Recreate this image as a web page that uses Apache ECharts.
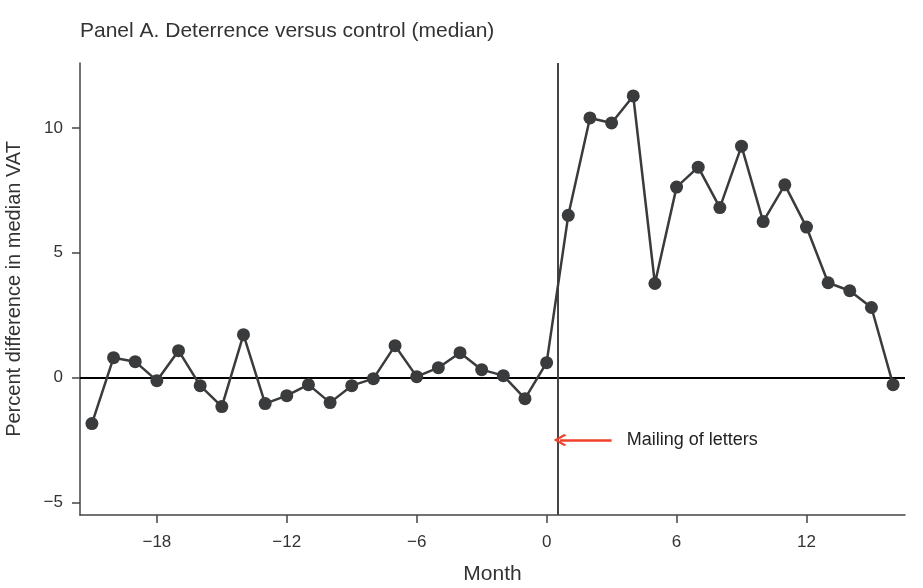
<!DOCTYPE html>
<html><head><meta charset="utf-8">
<script src="https://cdn.jsdelivr.net/npm/echarts@6/dist/echarts.min.js"></script>
<style>html,body{margin:0;padding:0;background:#fff}#c{width:923px;height:588px}</style>
</head><body><div id="c"></div>
<script>
const months = [-21,-20,-19,-18,-17,-16,-15,-14,-13,-12,-11,-10,-9,-8,-7,-6,-5,-4,-3,-2,-1,0,1,2,3,4,5,6,7,8,9,10,11,12,13,14,15,16];
const values = [-1.84,0.8,0.64,-0.12,1.08,-0.32,-1.16,1.72,-1.04,-0.72,-0.28,-1.0,-0.32,-0.04,1.28,0.04,0.4,1.0,0.32,0.08,-0.84,0.6,6.5,10.4,10.2,11.28,3.77,7.63,8.43,6.81,9.27,6.25,7.72,6.03,3.8,3.48,2.81,-0.28];
const xTicks = [-18,-12,-6,0,6,12];
const yTicks = [-5,0,5,10];
const mailingMonth = 0.5;
const annotationText = 'Mailing of letters';

const font = 'Liberation Sans, Arial, Helvetica, sans-serif';
const fmt = v => String(v).replace('-', '\u2212');
const chart = echarts.init(document.getElementById('c'));
chart.setOption({
  animation: false,
  title: { text: 'Panel A. Deterrence versus control (median)', left: 75, top: 16,
    textStyle: { fontFamily: font, fontSize: 21, fontWeight: 'normal', color: '#333' } },
  grid: { left: 80, right: 18, top: 63, bottom: 73, outerBoundsMode: 'none', containLabel: false },
  xAxis: {
    type: 'value', min: -21.55, max: 16.55,
    name: 'Month', nameLocation: 'middle', nameGap: 49,
    nameTextStyle: { fontFamily: font, fontSize: 21, color: '#333' },
    axisLine: { onZero: false, lineStyle: { color: '#444', width: 1.5 } },
    axisTick: { show: true, length: 8, customValues: xTicks, lineStyle: { color: '#444', width: 1.5 } },
    axisLabel: { customValues: xTicks, formatter: fmt, fontFamily: font, fontSize: 17, color: '#333', margin: 19 },
    splitLine: { show: false }
  },
  yAxis: {
    type: 'value', min: -5.5, max: 12.6,
    name: 'Percent difference in median VAT', nameLocation: 'middle', nameGap: 56,
    nameTextStyle: { fontFamily: font, fontSize: 20, color: '#333' },
    axisLine: { show: true, onZero: false, lineStyle: { color: '#444', width: 1.5 } },
    axisTick: { show: true, length: 8, customValues: yTicks, lineStyle: { color: '#444', width: 1.5 } },
    axisLabel: { customValues: yTicks, formatter: fmt, fontFamily: font, fontSize: 17, color: '#333', margin: 17 },
    splitLine: { show: false }
  },
  series: [{
    type: 'line',
    data: months.map((m, i) => [m, values[i]]),
    symbol: 'circle', symbolSize: 13,
    itemStyle: { color: '#3a3b3c' },
    lineStyle: { color: '#3a3b3c', width: 2.5 },
    z: 5,
    markLine: {
      silent: true, symbol: 'none', animation: false,
      label: { show: false },
      data: [
        { yAxis: 0, lineStyle: { color: '#000', width: 2, type: 'solid' } },
        { xAxis: mailingMonth, lineStyle: { color: '#444', width: 2, type: 'solid' } },
        [
          { coord: [3.0, -2.5], symbol: 'none', lineStyle: { color: '#f0402a', width: 2.5, type: 'solid' } },
          { coord: [0.62, -2.5], symbol: 'path://M0,0 L10,8.5 L8,10.5 L0,3.6 L-8,10.5 L-10,8.5 Z', symbolSize: [12, 13] }
        ]
      ]
    },
    markPoint: {
      silent: true,
      data: [{ coord: [3.7, -2.5], symbol: 'circle', symbolSize: 0,
        label: { show: true, position: 'right', distance: 0, formatter: annotationText,
          fontFamily: font, fontSize: 18, color: '#222' } }]
    }
  }]
});
</script></body></html>
